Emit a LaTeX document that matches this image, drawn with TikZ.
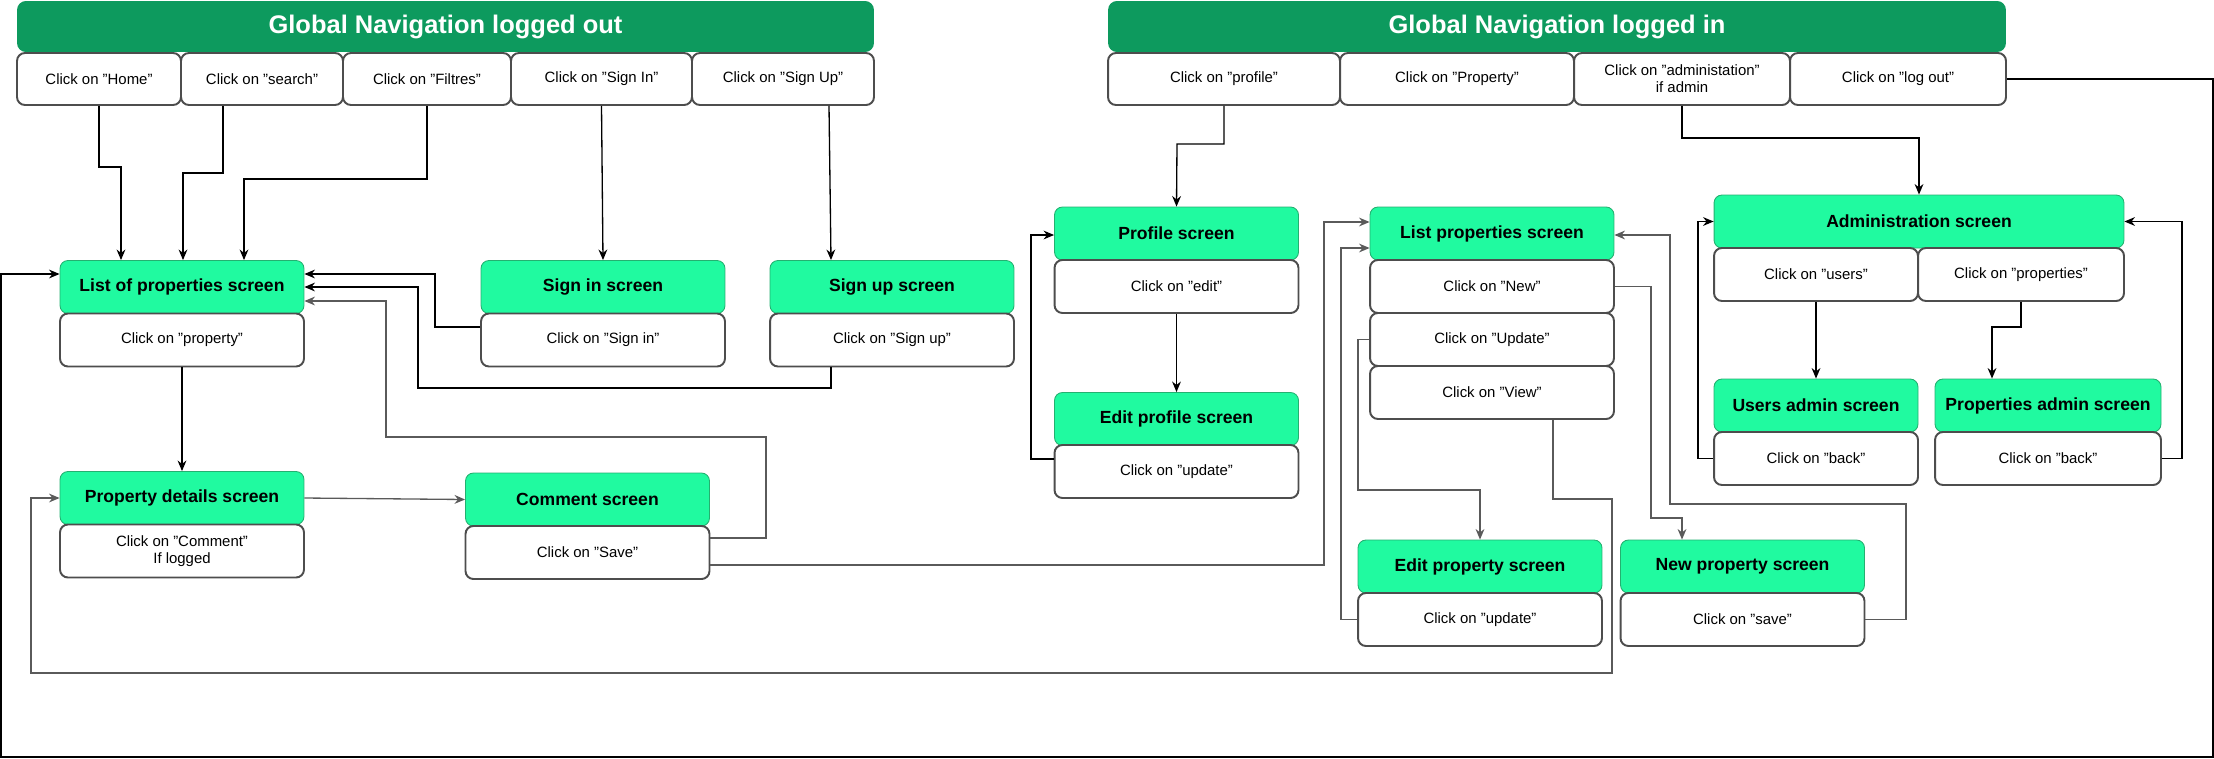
\documentclass[tikz,border=0pt]{standalone}
\usepackage{fontspec}
\setmainfont{Liberation Sans}
\usetikzlibrary{arrows.meta, positioning, calc}
\usepackage{xcolor}
\definecolor{navgreen}{RGB}{13, 154, 94}
\definecolor{screengreen}{RGB}{32, 250, 160}
\definecolor{screenedge}{RGB}{36, 176, 112}
\definecolor{clickgray}{RGB}{77, 77, 77}
\definecolor{linkgray}{RGB}{90, 90, 90}

\tikzset{
  navhead/.style={fill=navgreen, rounded corners=5pt, text=white, font=\bfseries\fontsize{14.5}{17}\selectfont, minimum height=1.02cm, inner sep=0pt},
  screenbox/.style={draw=screenedge, fill=screengreen, line width=0.5pt, rounded corners=4.5pt, font=\bfseries\fontsize{10}{12}\selectfont, minimum width=4.88cm, minimum height=1.06cm, inner sep=0pt},
  clickbox/.style={draw=clickgray, fill=white, line width=1.1pt, rounded corners=4.5pt, font=\fontsize{8.5}{9.7}\selectfont, align=center, minimum width=4.88cm, minimum height=1.06cm, inner sep=0pt},
  navclick/.style={clickbox, minimum height=1.04cm},
  link/.style={-{Stealth[length=6pt, width=5pt]}, line width=0.75pt},
  linkgry/.style={link, draw=linkgray},
}

\begin{document}
\begin{tikzpicture}[x=0.02cm, y=-0.02cm]
\useasboundingbox (0,0) rectangle (2214,758);

% logged out
\node[navhead, minimum width=17.14cm] (hdrout) at (445.5,26.5) {Global Navigation logged out};
\node[navclick, minimum width=3.28cm] (home) at (99,79) {Click on "Home"};
\node[navclick, minimum width=3.24cm] (search) at (262,79) {Click on "search"};
\node[navclick, minimum width=3.36cm] (filtres) at (427,79) {Click on "Filtres"};
\node[navclick, minimum width=3.62cm] (navsignin) at (601.5,79) {Click on "Sign In"};
\node[navclick, minimum width=3.64cm] (navsignup) at (783,79) {Click on "Sign Up"};

\node[screenbox] (list) at (182,287) {List of properties screen};
\node[clickbox] (listclick) at (182,340) {Click on "property"};
\node[screenbox] (signin) at (603,287) {Sign in screen};
\node[clickbox] (signinclick) at (603,340) {Click on "Sign in"};
\node[screenbox] (signup) at (892,287) {Sign up screen};
\node[clickbox] (signupclick) at (892,340) {Click on "Sign up"};
\node[screenbox] (details) at (182,498) {Property details screen};
\node[clickbox] (detailsclick) at (182,551) {Click on "Comment"\\If logged};
\node[screenbox] (comment) at (587.5,499.5) {Comment screen};
\node[clickbox] (commentclick) at (587.5,552.5) {Click on "Save"};

% logged in
\node[navhead, minimum width=17.96cm] (hdrin) at (1557,26.5) {Global Navigation logged in};
\node[navclick, minimum width=4.64cm] (navprofile) at (1224,79) {Click on "profile"};
\node[navclick, minimum width=4.68cm] (navproperty) at (1457,79) {Click on "Property"};
\node[navclick, minimum width=4.32cm] (navadmin) at (1682,79) {Click on "administation"\\if admin};
\node[navclick, minimum width=4.32cm] (navlogout) at (1898,79) {Click on "log out"};

\node[screenbox] (profile) at (1176.5,233.5) {Profile screen};
\node[clickbox] (profileclick) at (1176.5,286.5) {Click on "edit"};
\node[screenbox] (editprofile) at (1176.5,419) {Edit profile screen};
\node[clickbox] (editprofileclick) at (1176.5,471.5) {Click on "update"};

\node[screenbox] (props) at (1492,233.5) {List properties screen};
\node[clickbox] (newclick) at (1492,286.5) {Click on "New"};
\node[clickbox] (updateclick) at (1492,339.5) {Click on "Update"};
\node[clickbox] (viewclick) at (1492,392.5) {Click on "View"};
\node[screenbox] (editprop) at (1480,566.5) {Edit property screen};
\node[clickbox] (editpropclick) at (1480,619.5) {Click on "update"};
\node[screenbox] (newprop) at (1742.5,566.5) {New property screen};
\node[clickbox] (newpropclick) at (1742.5,619.5) {Click on "save"};

\node[screenbox, minimum width=8.2cm] (admin) at (1919,221.5) {Administration screen};
\node[clickbox, minimum width=4.08cm] (usersclick) at (1816,274.5) {Click on "users"};
\node[clickbox, minimum width=4.12cm] (propsclick) at (2021,274.5) {Click on "properties"};
\node[screenbox, minimum width=4.08cm] (usersadmin) at (1816,405.5) {Users admin screen};
\node[clickbox, minimum width=4.08cm] (usersback) at (1816,458.5) {Click on "back"};
\node[screenbox, minimum width=4.52cm] (propsadmin) at (2048,405.5) {Properties admin screen};
\node[clickbox, minimum width=4.52cm] (propsback) at (2048,458.5) {Click on "back"};

\draw[link] (home.south) |- (121,167) -- (list.north -| 121,0);
\draw[link] (search.south -| 223,0) |- (183,173) -- (list.north -| 183,0);
\draw[link] (filtres.south) |- (244,179) -- (list.north -| 244,0);
\draw[link] (navsignin.south) -- (signin.north);
\draw[link] (navsignup.south -| 829,0) -- (signup.north -| 831,0);
\draw[link] (signinclick.west |- 0,327) -| (435,274) -- (list.east |- 0,274);
\draw[link] (signupclick.south -| 831,0) |- (418,388) |- (list.east);
\draw[link] (listclick.south) -- (details.north);
\draw[linkgry] (details.east) -- (comment.west);
\draw[linkgry] (commentclick.east |- 0,538) -| (766,437) -| (386,301) -- (list.east |- 0,301);
\draw[linkgry] (commentclick.east |- 0,565) -| (1324,222) -- (props.west |- 0,222);
\draw[link] (navlogout.east) -| (2213,757) -| (1,274) -- (list.west |- 0,274);

\draw[link] (navprofile.south) |- (1177,144) -- (profile.north);
\draw[link] (profileclick.south) -- (editprofile.north);
\draw[link] (editprofileclick.west |- 0,459) -| (1031,235) -- (profile.west |- 0,235);

\draw[linkgry] (newclick.east) -| (1651,518) -| (newprop.north -| 1682,0);
\draw[linkgry] (newpropclick.east) -| (1906,504) -| (1670,235) -- (props.east |- 0,235);
\draw[linkgry] (updateclick.west) -| (1358,490) -| (editprop.north);
\draw[linkgry] (editpropclick.west) -| (1341,248) -- (props.west |- 0,248);
\draw[linkgry] (viewclick.south -| 1553,0) |- (1612,499) |- (31,673) |- (details.west);

\draw[link] (navadmin.south) |- (1919,138) -- (admin.north);
\draw[link] (usersclick.south) -- (usersadmin.north);
\draw[link] (propsclick.south) |- (1992,327) -- (propsadmin.north -| 1992,0);
\draw[link] (usersback.west) -| (1698,221.5) -- (admin.west);
\draw[link] (propsback.east) -| (2182,221.5) -- (admin.east);
\end{tikzpicture}
\end{document}
